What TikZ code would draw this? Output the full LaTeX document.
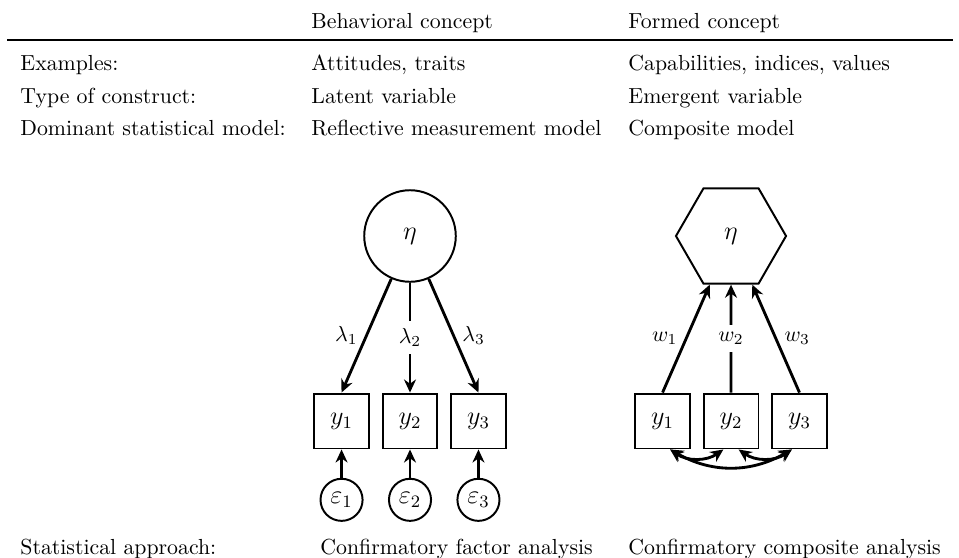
\documentclass[tikz,border=0pt]{standalone}
\usetikzlibrary{shapes.geometric,arrows.meta}
\usetikzlibrary{positioning}

\tikzset{
  cell/.style={anchor=base west, inner sep=0pt},
  ind/.style={draw, line width=0.9pt, minimum size=25.2pt, inner sep=0pt, font=\large},
  lat/.style={draw, circle, line width=0.9pt, minimum size=42pt, inner sep=0pt, font=\large},
  err/.style={draw, circle, line width=0.9pt, minimum size=19.3pt, inner sep=0pt, font=\large},
  comp/.style={draw, regular polygon, regular polygon sides=6, line width=0.9pt, minimum size=50.5pt, inner sep=0pt, font=\large},
  arr/.style={line width=1.3pt, -{Stealth[length=6pt,width=5.5pt]}},
  cov/.style={line width=1.3pt, {Stealth[length=6pt,width=5.5pt]}-{Stealth[length=6pt,width=5.5pt]}},
}

\begin{document}
\begin{tikzpicture}[x=0.4587pt, y=-0.4587pt]
    \useasboundingbox (0,0) rectangle (959,557);

    % table rows
    \node[cell] (hdr)  at (311,28)  {Behavioral concept};
    \node[cell] (hdf)  at (628,28)  {Formed concept};
    \draw[line width=0.7pt] (7,40) -- (953,40);
    \node[cell] (ex)   at (20,70)   {Examples:};
    \node[cell] (exr)  at (311,70)  {Attitudes, traits};
    \node[cell] (exf)  at (628,70)  {Capabilities, indices, values};
    \node[cell] (ty)   at (20,103)  {Type of construct:};
    \node[cell] (tyr)  at (311,103) {Latent variable};
    \node[cell] (tyf)  at (628,103) {Emergent variable};
    \node[cell] (mo)   at (20,135)  {Dominant statistical model:};
    \node[cell] (mor)  at (311,135) {Reflective measurement model};
    \node[cell] (mof)  at (628,135) {Composite model};
    \node[cell] (ap)   at (20,554)  {Statistical approach:};
    \node[cell] (apr)  at (320,554) {Confirmatory factor analysis};
    \node[cell] (apf)  at (628,554) {Confirmatory composite analysis};

    % reflective measurement model
    \node[lat] (etar) at (410,236) {$\eta$};
    \node[ind] (r2) at (410,421) {$y_2$};
    \node[ind, left=5.3pt of r2]  (r1) {$y_1$};
    \node[ind, right=5.3pt of r2] (r3) {$y_3$};
    \foreach \i in {1,2,3}
        \node[err, below=13pt of r\i] (e\i) {$\varepsilon_\i$};

    \draw[arr] (etar) -- node[left]  {$\lambda_1$} (r1.north);
    \draw[arr] (etar) -- node[fill=white] {$\lambda_2$} (r2.north);
    \draw[arr] (etar) -- node[right] {$\lambda_3$} (r3.north);
    \foreach \i in {1,2,3}
        \draw[arr] (e\i) -- (r\i);

    % composite model
    \node[comp] (etaf) at (731,236) {$\eta$};
    \node[ind] (f2) at (731,421) {$y_2$};
    \node[ind, left=5.3pt of f2]  (f1) {$y_1$};
    \node[ind, right=5.3pt of f2] (f3) {$y_3$};

    \draw[arr] (f1.north) -- node[left]  {$w_1$} (etaf);
    \draw[arr] (f2.north) -- node[fill=white] {$w_2$} (etaf);
    \draw[arr] (f3.north) -- node[right] {$w_3$} (etaf);

    \draw[cov] (f1.-75) to[bend right=35] (f2.-105);
    \draw[cov] (f2.-75) to[bend right=35] (f3.-105);
    \draw[cov] (f1.-75) to[bend right=30] (f3.-105);
\end{tikzpicture}
\end{document}
